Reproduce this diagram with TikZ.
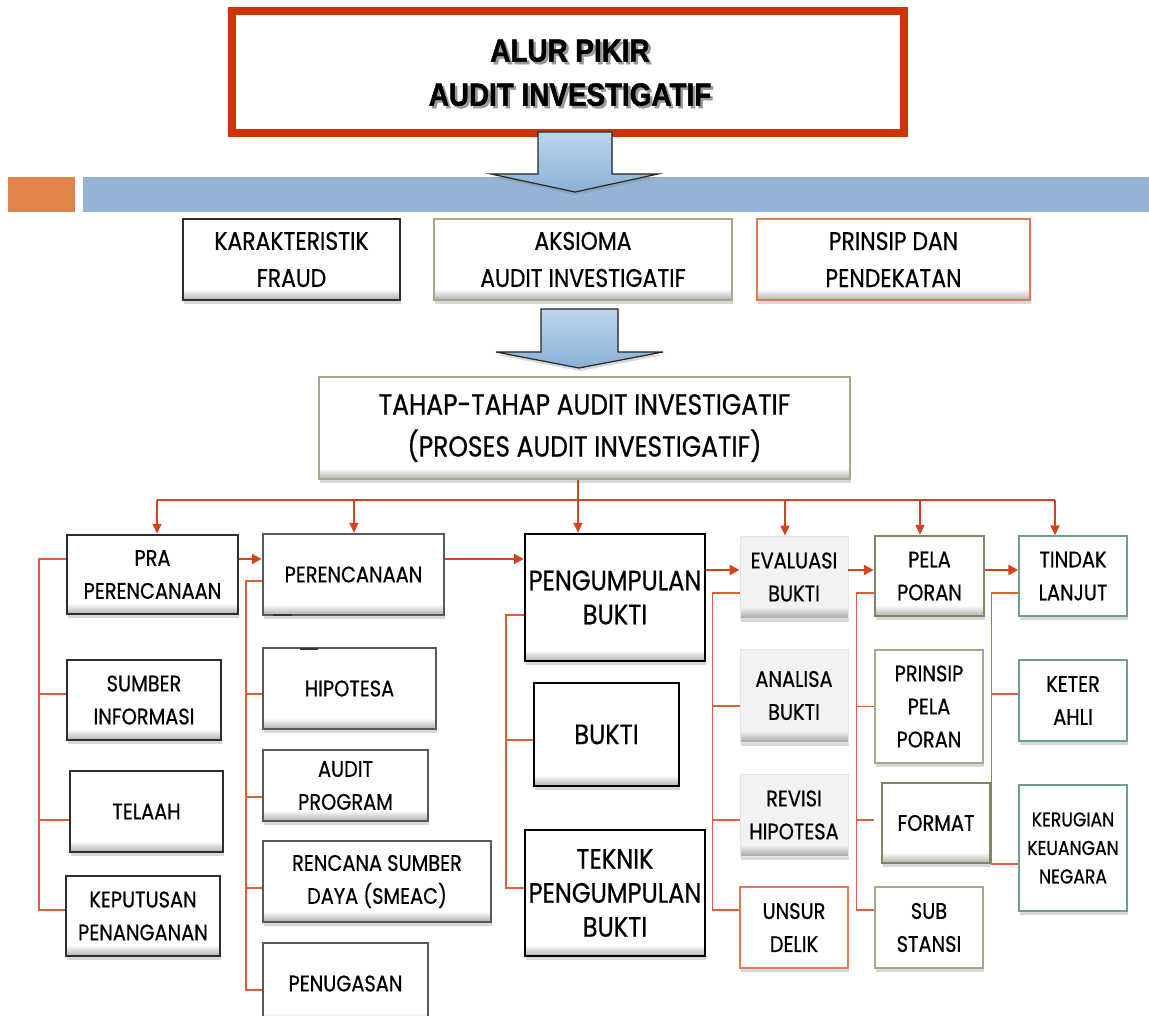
\documentclass[tikz,border=0pt]{standalone}
\usepackage{fontspec}
\setmainfont[FakeStretch=0.86,FakeBold=0.6]{Poppins}
\newfontfamily\titlefont[FakeStretch=0.87,BoldFeatures={FakeBold=1.5}]{Liberation Sans}
\usetikzlibrary{shadows,arrows.meta}
\definecolor{titlered}{HTML}{CC3300}
\definecolor{barblue}{HTML}{95B3D7}
\definecolor{barorange}{HTML}{E0844A}
\definecolor{arrc}{HTML}{D2441B}
\definecolor{brkc}{HTML}{DE5F36}
\definecolor{olivec}{HTML}{A5A98A}
\definecolor{olived}{HTML}{7E8466}
\definecolor{orangec}{HTML}{E07A50}
\definecolor{tealc}{HTML}{6F9C98}
\definecolor{arrowlight}{HTML}{BCD6EE}
\definecolor{arrowdark}{HTML}{8AB0D8}
\newcommand\shadowtext[1]{\rlap{\kern2.5pt\raisebox{-2.5pt}{\color{black!40}#1}}#1}
\tikzset{
  bevel/.style={path picture={%
      \foreach \i in {1,...,10}{%
        \fill[black,opacity=0.028*\i]
          ([yshift={(11-\i)*1pt}]path picture bounding box.south west) rectangle
          ([yshift={(10-\i)*1pt}]path picture bounding box.south east);}}},
  shad/.style={drop shadow={shadow xshift=1pt,shadow yshift=-4pt,opacity=.3}},
  darkbox/.style={draw=black!82,line width=2.5pt,fill=white,shad,bevel},
  midbox/.style={draw=black!65,line width=2.5pt,fill=white,shad,bevel},
  blackbox/.style={draw=black,line width=2.5pt,fill=white,shad,bevel},
  olivebox/.style={draw=olivec,line width=2pt,fill=white,shad,bevel},
  olivedark/.style={draw=olived,line width=2.5pt,fill=white,shad,bevel},
  olivethin/.style={draw=olivec,line width=1.5pt,fill=white,shad},
  graybox/.style={draw=black!10,line width=.8pt,fill=black!5,shad,bevel},
  orangebox/.style={draw=orangec,line width=1.5pt,fill=white,shad},
  tealbox/.style={draw=tealc,line width=1.5pt,fill=white,shad},
  fsA/.style={font=\fontsize{25.5}{37}\selectfont},
  fsB/.style={font=\fontsize{29}{42}\selectfont},
  fsC/.style={font=\fontsize{22.5}{33}\selectfont},
  fsD/.style={font=\fontsize{28}{34}\selectfont},
  fsE/.style={font=\fontsize{20}{28.5}\selectfont},
  arrline/.style={draw=arrc,line width=1.8pt},
  arr/.style={draw=arrc,line width=1.8pt,-{Triangle[length=10pt,width=9pt]}},
  harr/.style={draw=arrc,line width=2.5pt,-{Triangle[length=10pt,width=10pt]}},
  brk/.style={draw=brkc,line width=1.5pt},
  blockarrow/.style={draw=black!85,line width=1.2pt,top color=arrowlight,bottom color=arrowdark,
      drop shadow={shadow xshift=1pt,shadow yshift=-3pt,opacity=.3}}
}
\newcommand\bx[7]{%
  \node[#6,minimum width={(#4-#2)*1pt},minimum height={(#5-#3)*1pt},inner sep=0pt,align=center]
    (#1) at ({(#2+#4)/2},{(#3+#5)/2}) {#7};}
\begin{document}
\begin{tikzpicture}[x=1pt,y=-1pt]
\useasboundingbox[fill=white] (0,0) rectangle (1149,1016);
% band
\fill[barblue] (83,177) rectangle (1149,212);
\fill[barorange] (8,177) rectangle (75,212);
% title
\node[draw=titlered,line width=8pt,fill=white,minimum width=672pt,minimum height=122pt,inner sep=0pt] (title) at (568,72) {};
\node[font=\titlefont\bfseries\fontsize{32}{44}\selectfont,align=center] (ttext) at (570,74) {\shadowtext{ALUR PIKIR}\\\shadowtext{AUDIT INVESTIGATIF}};
% block arrow 1
\path[blockarrow] (538,132) -- (612,132) -- (612,174) -- (658,174) -- (575,192) -- (491,174) -- (538,174) -- cycle;
% top three boxes
\bx{kar}{183}{219}{400}{300}{darkbox,fsA}{KARAKTERISTIK\\FRAUD}
\bx{aks}{434}{219}{732}{300}{olivebox,fsA}{AKSIOMA\\AUDIT INVESTIGATIF}
\bx{prin}{757}{219}{1030}{300}{orangebox,bevel,fsA}{PRINSIP DAN\\PENDEKATAN}
% block arrow 2
\path[blockarrow] (541,309) -- (618,309) -- (618,352) -- (663,352) -- (579,368) -- (496,352) -- (541,352) -- cycle;
% big box
\bx{tahap}{319}{377}{850}{479}{olivebox,fsB}{TAHAP-TAHAP AUDIT INVESTIGATIF\\(PROSES AUDIT INVESTIGATIF)}
% column 1
\bx{pra}{67}{535}{238}{614}{darkbox,fsC}{PRA\\PERENCANAAN}
\bx{sumber}{67}{660}{221}{740}{darkbox,fsC}{SUMBER\\INFORMASI}
\bx{telaah}{70}{771}{223}{852}{darkbox,fsC}{TELAAH}
\bx{kep}{66}{876}{220}{956}{darkbox,fsC}{KEPUTUSAN\\PENANGANAN}
% column 2
\bx{per}{263}{534}{444}{615}{midbox,fsC}{PERENCANAAN}
\bx{hip}{263}{648}{436}{729}{midbox,fsC}{HIPOTESA}
\bx{aud}{263}{750}{428}{821}{midbox,fsC}{AUDIT\\PROGRAM}
\bx{ren}{263}{841}{491}{922}{midbox,fsC}{RENCANA SUMBER\\DAYA (SMEAC)}
\bx{pen}{263}{943}{428}{1024}{midbox,fsC}{PENUGASAN}
\draw[black!80,line width=2pt] (273,615) -- (292,615);
\draw[black!80,line width=2pt] (300,649) -- (318,649);
% column 3
\bx{peng}{525}{534}{705}{661}{blackbox,fsD}{PENGUMPULAN\\BUKTI}
\bx{bukti}{534}{683}{679}{786}{blackbox,fsD}{BUKTI}
\bx{tek}{525}{830}{705}{956}{blackbox,fsD}{TEKNIK\\PENGUMPULAN\\BUKTI}
% column 4
\bx{eva}{740}{536}{848}{618}{graybox,fsC}{EVALUASI\\BUKTI}
\bx{ana}{740}{649}{848}{742}{graybox,fsC}{ANALISA\\BUKTI}
\bx{rev}{740}{774}{848}{856}{graybox,fsC}{REVISI\\HIPOTESA}
\bx{uns}{740}{887}{848}{968}{orangebox,fsC}{UNSUR\\DELIK}
% column 5
\bx{pela}{875}{536}{984}{616}{olivedark,fsC}{PELA\\PORAN}
\bx{prp}{875}{650}{983}{763}{olivethin,fsC}{PRINSIP\\PELA\\PORAN}
\bx{fmt}{882}{783}{990}{863}{olivedark,fsC}{FORMAT}
\bx{sub}{875}{887}{983}{968}{olivethin,fsC}{SUB\\STANSI}
% column 6
\bx{tin}{1019}{536}{1127}{616}{tealbox,fsC}{TINDAK\\LANJUT}
\bx{ket}{1019}{660}{1127}{741}{tealbox,fsC}{KETER\\AHLI}
\bx{ker}{1019}{785}{1127}{911}{tealbox,fsE}{KERUGIAN\\KEUANGAN\\NEGARA}
% distribution
\coordinate (d1) at (157,500);
\coordinate (d2) at (354,500);
\coordinate (d3) at (578,500);
\coordinate (d4) at (785,500);
\coordinate (d5) at (920,500);
\coordinate (d6) at (1055,500);
\draw[arrline] (tahap.south -| d3) -- (d3);
\draw[arrline] (d1) -- (d6);
\draw[arr] (d1) -- (d1 |- pra.north);
\draw[arr] (d2) -- (d2 |- per.north);
\draw[arr] (d3) -- (d3 |- peng.north);
\draw[arr] (d4) -- (d4 |- eva.north);
\draw[arr] (d5) -- (d5 |- pela.north);
\draw[arr] (d6) -- (d6 |- tin.north);
% horizontal arrows
\draw[harr] ([yshift=15.5pt]pra.east) -- ([yshift=15.5pt]per.west);
\draw[harr] ([yshift=15.5pt]per.east) -- ([yshift=38.5pt]peng.west);
\draw[harr] ([yshift=27.5pt]peng.east) -- ([yshift=7pt]eva.west);
\draw[harr] ([yshift=7pt]eva.east) -- ([yshift=6pt]pela.west);
\draw[harr] ([yshift=6pt]pela.east) -- ([yshift=6pt]tin.west);
% brackets column 1
\draw[brk] ([yshift=15.5pt]pra.west) -| ([xshift=-26pt,yshift=6pt]kep.west) -- ([yshift=6pt]kep.west);
\draw[brk] ([xshift=-27pt,yshift=6pt]sumber.west) -- ([yshift=6pt]sumber.west);
\draw[brk] ([xshift=-30pt,yshift=-8.5pt]telaah.west) -- ([yshift=-8.5pt]telaah.west);
% column 2
\draw[brk] ([yshift=-6.5pt]per.west) -| ([xshift=-16pt,yshift=-6.5pt]pen.west) -- ([yshift=-6.5pt]pen.west);
\draw[brk] ([xshift=-16pt,yshift=-5.5pt]hip.west) -- ([yshift=-5.5pt]hip.west);
\draw[brk] ([xshift=-16pt,yshift=-11.5pt]aud.west) -- ([yshift=-11.5pt]aud.west);
\draw[brk] ([xshift=-16pt,yshift=-6.5pt]ren.west) -- ([yshift=-6.5pt]ren.west);
% column 3
\draw[brk] ([yshift=-17.5pt]peng.west) -| ([xshift=-18pt,yshift=5pt]tek.west) -- ([yshift=5pt]tek.west);
\draw[brk] ([xshift=-27pt,yshift=-5.5pt]bukti.west) -- ([yshift=-5.5pt]bukti.west);
% column 4
\draw[brk] ([yshift=-16pt]eva.west) -| ([xshift=-27pt,yshift=17.5pt]uns.west) -- ([yshift=17.5pt]uns.west);
\draw[brk] ([xshift=-27pt,yshift=-10.5pt]ana.west) -- ([yshift=-10.5pt]ana.west);
\draw[brk] ([xshift=-27pt,yshift=-5pt]rev.west) -- ([yshift=-5pt]rev.west);
% column 5
\draw[brk] ([yshift=-17pt]pela.west) -| ([xshift=-18pt,yshift=17.5pt]sub.west) -- ([yshift=17.5pt]sub.west);
\draw[brk] ([xshift=-18pt]prp.west) -- (prp.west);
\draw[brk] ([xshift=-25pt,yshift=3pt]fmt.west) -- ([xshift=-7pt,yshift=3pt]fmt.west);
% column 6
\draw[brk] ([yshift=-17pt]tin.west) -| ([xshift=-27pt,yshift=-16pt]ker.west) -- ([yshift=-16pt]ker.west);
\draw[brk] ([xshift=-27pt,yshift=6.5pt]ket.west) -- ([yshift=6.5pt]ket.west);
\end{tikzpicture}
\end{document}
